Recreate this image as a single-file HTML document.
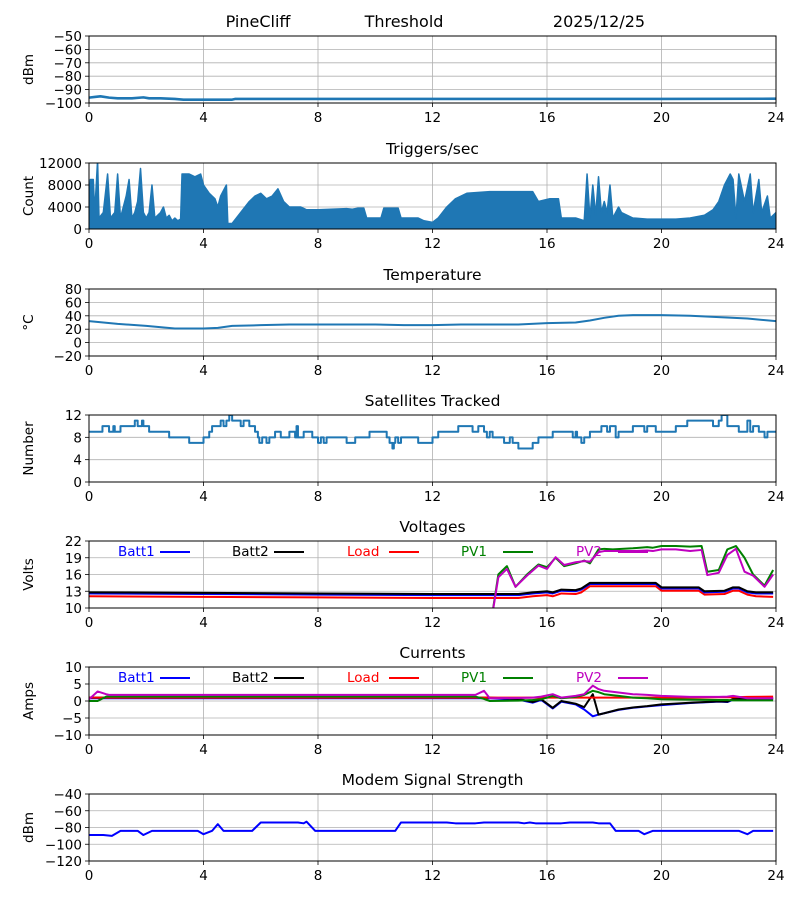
<!DOCTYPE html>
<html><head><meta charset="utf-8">
<style>
html,body{margin:0;padding:0;background:#fff;}
svg{display:block;font-family:"DejaVu Sans","Liberation Sans",sans-serif;}
</style></head>
<body>
<svg id="fig" width="800" height="900" viewBox="0 0 800 900" xmlns="http://www.w3.org/2000/svg">
<text x="258" y="27" font-size="16" text-anchor="middle">PineCliff</text>
<text x="404" y="27" font-size="16" text-anchor="middle">Threshold</text>
<text x="599" y="27" font-size="16" text-anchor="middle">2025/12/25</text>
</svg>
<script>
// ---- data ----
const xTicks = [0,4,8,12,16,20,24];
const sigHours = [0,0.2,0.4,0.7,1.0,1.5,1.9,2.1,2.5,3.0,3.3,4,5,5.1,8,12,16,20,24];
const sigVals = [-96,-95.5,-95,-96,-96.5,-96.5,-95.8,-96.5,-96.5,-97,-97.5,-97.5,-97.5,-97,-97,-97,-97,-97,-96.8];
const sigTicks = [-50,-60,-70,-80,-90,-100];

const trigHours = [0,0.05,0.15,0.2,0.3,0.35,0.5,0.65,0.75,0.9,1.0,1.1,1.3,1.4,1.5,1.6,1.7,1.8,1.9,2.0,2.1,2.2,2.3,2.5,2.6,2.7,2.8,2.9,3.0,3.1,3.2,3.25,3.5,3.7,3.9,4.0,4.2,4.4,4.5,4.6,4.8,4.85,5.0,5.3,5.6,5.8,6.0,6.2,6.4,6.6,6.8,7.0,7.4,7.6,8,9,9.2,9.4,9.6,9.7,10.2,10.3,10.8,10.9,11.5,11.7,12,12.2,12.5,12.8,13.2,14,15,15.5,15.7,16.1,16.4,16.5,17,17.3,17.4,17.5,17.6,17.7,17.8,17.9,18.0,18.1,18.2,18.3,18.5,18.6,18.8,19,19.5,20.5,21,21.5,21.8,22,22.2,22.4,22.5,22.6,22.7,22.9,23.1,23.2,23.4,23.5,23.7,23.8,24];
const trigVals = [2000,9000,9000,3000,12500,2000,3000,10000,2000,3000,10000,2000,6000,9000,2000,3000,5000,11000,3000,2000,3000,8000,2000,3000,4000,2000,2500,1500,2000,1500,1800,10000,10000,9500,10000,8000,6500,5500,4000,6000,8000,1000,1000,3000,5000,6000,6500,5500,6000,7300,5000,4000,4000,3500,3500,3700,3600,3800,3800,2000,2000,3800,3800,2000,2000,1500,1200,2000,4000,5500,6500,6800,6800,6800,5000,5500,5500,2000,2000,1500,10000,2000,8000,2500,9500,3000,5000,3000,8000,2000,4000,3000,2500,2000,1800,1800,2000,2500,3500,5000,8000,10000,9000,2000,10000,5000,10000,3000,9000,3000,6000,2000,3000];
const trigTicks = [0,4000,8000,12000];

const tempHours = [0,1,2,3,4,4.5,5,6,7,8,10,11,12,13,15,16,17,17.5,18,18.5,19,20,21,22,23,24];
const tempVals = [32,28,25,21,21,22,25,26,27,27,27,26,26,27,27,29,30,33,37,40,41,41,40,38,36,32];
const tempTicks = [-20,0,20,40,60,80];

const satHours = [0,0.47,0.7,0.85,0.9,1.1,1.6,1.7,1.85,1.9,2.0,2.1,2.8,3.5,4.0,4.2,4.3,4.6,4.7,4.8,4.9,5.0,5.3,5.4,5.6,5.8,5.9,5.95,6.05,6.2,6.3,6.5,6.7,7.0,7.2,7.25,7.3,7.5,7.8,8.0,8.1,8.2,8.3,9.0,9.3,9.8,10.4,10.5,10.6,10.65,10.7,10.8,10.9,11.5,12.0,12.2,12.9,13.4,13.6,13.8,13.9,14.0,14.1,14.3,14.5,14.7,14.8,15.0,15.3,15.5,15.7,16.2,16.9,17.0,17.05,17.2,17.3,17.5,17.9,18.1,18.2,18.4,18.5,18.9,19.0,19.4,19.5,19.8,20.5,20.9,21.8,22.0,22.1,22.3,22.7,23.0,23.1,23.2,23.4,23.6,23.7,24];
const satVals = [9,10,9,10,9,10,11,10,11,10,10,9,8,7,8,9,10,11,10,11,12,11,10,11,10,9,8,7,8,7,8,9,8,9,8,10,8,9,8,7,8,7,8,7,8,9,8,7,6,7,8,7,8,7,8,9,10,9,10,9,8,9,8,8,7,8,7,6,6,7,8,9,8,9,8,7,8,9,10,9,10,8,9,9,10,9,10,9,10,11,10,11,12,10,9,11,9,10,9,8,9,9];
const satTicks = [0,4,8,12];

const battHours = [0,4,8,12,15,15.5,16,16.2,16.5,17,17.2,17.5,19.8,20,21.3,21.5,22.2,22.5,22.7,23,23.3,23.9];
const batt1Vals = [12.6,12.5,12.4,12.3,12.3,12.6,12.8,12.6,13.1,13.0,13.3,14.3,14.3,13.5,13.5,12.8,12.9,13.5,13.5,12.8,12.6,12.6];
const batt2Vals = [12.8,12.7,12.6,12.5,12.5,12.8,13.0,12.8,13.3,13.2,13.5,14.5,14.5,13.7,13.7,13.0,13.1,13.7,13.7,13.0,12.8,12.8];
const loadVals = [12.1,12.0,11.9,11.8,11.8,12.1,12.3,12.1,12.6,12.5,12.8,13.9,13.9,13.1,13.1,12.4,12.5,13.1,13.1,12.4,12.1,12.0];
const pvHours = [14,14.3,14.6,14.9,15.3,15.7,16,16.3,16.6,17,17.3,17.5,17.8,18,18.3,19,19.5,19.7,20,20.5,21,21.4,21.6,22,22.3,22.6,22.9,23.2,23.6,23.9];
const pv1Vals = [6,16,17.5,13.8,16,17.8,17.3,19,17.5,18,18.5,18,20.5,20.6,20.5,20.7,20.9,20.8,21.1,21.1,21.0,21.1,16.5,16.8,20.5,21.1,19,16,14,16.8];
const pv2Vals = [6,15.5,17,13.8,15.8,17.6,17.0,19.1,17.7,18.2,18.4,18.3,20.0,20.2,20.2,20.2,20.3,20.2,20.5,20.5,20.2,20.4,15.9,16.3,19.5,20.6,16.5,15.8,13.8,16];
const voltTicks = [10,13,16,19,22];

const curHours = [0,0.3,0.6,0.7,13.5,13.8,14,15,15.5,15.8,16.2,16.5,17,17.3,17.6,17.8,18,18.5,19,19.5,20,21,22,22.3,22.5,23,23.9];
const batt1Cur = [0.8,0.8,0.8,0.8,0.8,0.8,0.8,0.4,-0.5,0.3,-2.2,-0.2,-1.0,-2.5,-4.5,-4.0,-3.6,-2.6,-2.0,-1.6,-1.2,-0.6,-0.2,-0.3,0.4,0.5,0.6];
const batt2Cur = [1,1,1,1,1,1,1,0.6,-0.3,0.5,-2.0,0,-0.8,-1.8,2,-4,-3.6,-2.5,-1.9,-1.5,-1.0,-0.5,-0.1,-0.2,0.6,0.7,0.8];
const loadCur = [1,1,1,1,1,1,1,1,1,1,1,1,1,1,1,1,1,1,1,1,1,1,1.1,1.1,1.1,1.2,1.3];
const pv1Cur = [0,0,1.3,1.3,1.3,0.6,0,0.1,0.3,0.5,1.5,0.8,1.2,1.8,3,2.6,2,1.5,1,0.8,0.5,0.4,0.3,0.3,0.2,0.2,0.2];
const pv2Cur = [0.5,2.8,2,1.8,1.8,3,0.8,0.9,1,1.3,2,1,1.5,2,4.5,3.5,3,2.5,2,1.8,1.5,1.2,1.2,1.3,1.5,0.8,0.8];
const curTicks = [-10,-5,0,5,10];

const modHours = [0,0.5,0.8,1.1,1.7,1.9,2.2,3.8,4.0,4.3,4.5,4.7,5.7,6,7.3,7.5,7.6,7.9,10.7,10.9,12.5,12.8,13.5,13.8,15,15.2,15.4,15.6,16.5,16.8,17.6,17.8,18.2,18.4,19.2,19.4,19.7,22.7,23,23.2,23.9];
const modVals = [-89,-89,-90,-84,-84,-89,-84,-84,-88,-84,-76,-84,-84,-74,-74,-75,-73,-84,-84,-74,-74,-75,-75,-74,-74,-75,-74,-75,-75,-74,-74,-75,-75,-84,-84,-88,-84,-84,-88,-84,-84];
const modTicks = [-120,-100,-80,-60,-40];

// ---- drawing ----
const NS = "http://www.w3.org/2000/svg";
const svg = document.getElementById('fig');
const X0 = 89, X1 = 776;
function mk(tag, attrs, parent){
  const e = document.createElementNS(NS, tag);
  for (const k in attrs) e.setAttribute(k, attrs[k]);
  (parent||svg).appendChild(e);
  return e;
}
function xs(h){ return X0 + (X1 - X0) * h / 24; }

function panel(name, title, ylabel, top, bot, ymin, ymax, yticks){
  const g = mk('g', {});
  
  
  const ys = v => bot - (bot - top) * (v - ymin) / (ymax - ymin);
  xTicks.forEach(t => {
    const l = mk('line', {x1: xs(t), x2: xs(t), y1: top, y2: bot, stroke: '#b0b0b0', 'stroke-width': 0.8}, g);
    
    
  });
  yticks.forEach(t => {
    const l = mk('line', {x1: X0, x2: X1, y1: ys(t), y2: ys(t), stroke: '#b0b0b0', 'stroke-width': 0.8}, g);
    
    
  });
  if (title) {
    const tt = mk('text', {x: (X0 + X1) / 2, y: top - 9, 'font-size': 15.5, 'text-anchor': 'middle'}, g);
    tt.textContent = title;
    
    
  }
  const yl = mk('text', {x: 0, y: 0, 'font-size': 13.5, 'text-anchor': 'middle', transform: `translate(33,${(top + bot) / 2}) rotate(-90)`}, g);
  yl.textContent = ylabel;
  
  
  yticks.forEach(t => {
    mk('line', {x1: X0 - 4, x2: X0, y1: ys(t), y2: ys(t), stroke: '#000', 'stroke-width': 0.8}, g);
    const tx = mk('text', {x: X0 - 7, y: ys(t) + 5, 'font-size': 13.5, 'text-anchor': 'end'}, g);
    tx.textContent = String(t).replace('-', '\u2212');
    
    
  });
  xTicks.forEach(t => {
    mk('line', {x1: xs(t), x2: xs(t), y1: bot, y2: bot + 4, stroke: '#000', 'stroke-width': 0.8}, g);
    const tx = mk('text', {x: xs(t), y: bot + 19, 'font-size': 13.5, 'text-anchor': 'middle'}, g);
    tx.textContent = t;
    
    
  });
  const clipId = 'clip-' + name;
  const cp = mk('clipPath', {id: clipId}, g);
  mk('rect', {x: X0, y: top, width: X1 - X0, height: bot - top}, cp);
  const data = mk('g', {'clip-path': `url(#${clipId})`}, g);
  
  
  const frame = mk('rect', {x: X0, y: top, width: X1 - X0, height: bot - top, fill: 'none', stroke: '#000', 'stroke-width': 1}, g);
  
  
  return {g, data, ys};
}
function line(p, hrs, vals, color, name, width, step){
  let d = '';
  hrs.forEach((h, i) => {
    if (i === 0) d += `M${xs(h)},${p.ys(vals[i])}`;
    else if (step) d += `H${xs(h)}V${p.ys(vals[i])}`;
    else d += `L${xs(h)},${p.ys(vals[i])}`;
  });
  const el = mk('path', {d, fill: 'none', stroke: color, 'stroke-width': width || 1.8, 'stroke-linejoin': 'round'}, p.data);
  
  
  return el;
}
function legend(p, top, names, colors){
  const xsL = [118, 232, 347, 461, 576];
  names.forEach((n, i) => {
    const t = mk('text', {x: xsL[i], y: top + 15, 'font-size': 13.5, fill: colors[i]}, p.g);
    t.textContent = n;
    
    
    const l = mk('line', {x1: xsL[i] + 42, x2: xsL[i] + 72, y1: top + 11, y2: top + 11, stroke: colors[i], 'stroke-width': 2}, p.g);
    
    
  });
}
const C = '#1f77b4';

const p1 = panel('signal', null, 'dBm', 36, 103, -100, -50, sigTicks);
line(p1, sigHours, sigVals, C, 'signal-line', 2.6);

const p2 = panel('triggers', 'Triggers/sec', 'Count', 163, 229, 0, 12000, trigTicks);
{
  let d = `M${xs(trigHours[0])},${p2.ys(0)}`;
  trigHours.forEach((h, i) => { d += `L${xs(h)},${p2.ys(trigVals[i])}`; });
  d += `L${xs(trigHours[trigHours.length - 1])},${p2.ys(0)}Z`;
  const a = mk('path', {d, fill: C, stroke: C, 'stroke-width': 1.5, 'stroke-linejoin': 'round'}, p2.data);
  
  
}

const p3 = panel('temperature', 'Temperature', '\u00B0C', 289, 356, -20, 80, tempTicks);
line(p3, tempHours, tempVals, C, 'temperature-line', 2);

const p4 = panel('satellites', 'Satellites Tracked', 'Number', 415, 482, 0, 12, satTicks);
line(p4, satHours, satVals, C, 'satellites-line', 2, true);

const p5 = panel('voltages', 'Voltages', 'Volts', 541, 608, 10, 22, voltTicks);
line(p5, battHours, loadVals, 'red', 'load-voltage-line', 2);
line(p5, battHours, batt1Vals, 'blue', 'batt1-voltage-line', 2);
line(p5, battHours, batt2Vals, 'black', 'batt2-voltage-line', 2);
line(p5, pvHours, pv1Vals, 'green', 'pv1-voltage-line', 2);
line(p5, pvHours, pv2Vals, '#bf00bf', 'pv2-voltage-line', 2);
legend(p5, 541, ['Batt1','Batt2','Load','PV1','PV2'], ['blue','black','red','green','#bf00bf']);

const p6 = panel('currents', 'Currents', 'Amps', 667, 735, -10, 10, curTicks);
line(p6, curHours, batt1Cur, 'blue', 'batt1-current-line', 2);
line(p6, curHours, batt2Cur, 'black', 'batt2-current-line', 2);
line(p6, curHours, loadCur, 'red', 'load-current-line', 2);
line(p6, curHours, pv1Cur, 'green', 'pv1-current-line', 2);
line(p6, curHours, pv2Cur, '#bf00bf', 'pv2-current-line', 2);
legend(p6, 667, ['Batt1','Batt2','Load','PV1','PV2'], ['blue','black','red','green','#bf00bf']);

const p7 = panel('modem', 'Modem Signal Strength', 'dBm', 794, 861, -120, -40, modTicks);
line(p7, modHours, modVals, 'blue', 'modem-signal-line', 2);
</script>
</body></html>
